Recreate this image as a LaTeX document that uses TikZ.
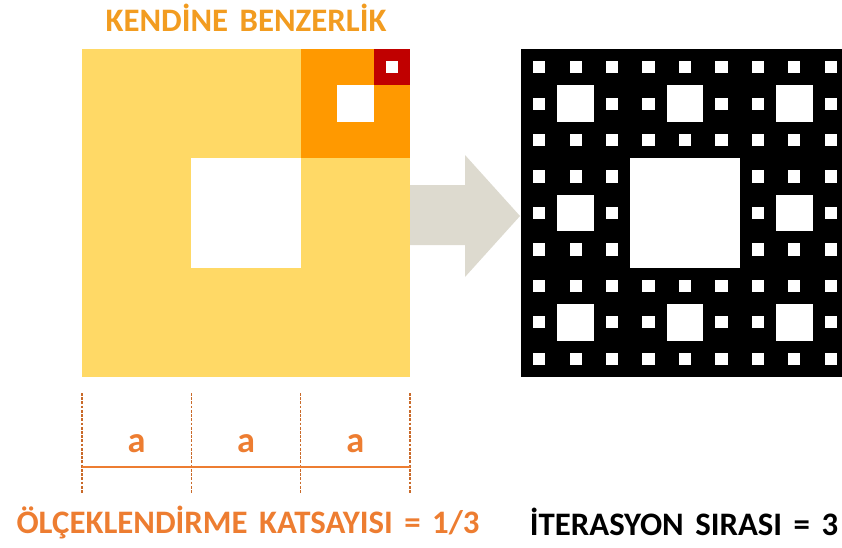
\documentclass[tikz,border=0pt]{standalone}
\usepackage{fontspec}
\setmainfont{Carlito}[WordSpace=1.55]
\usetikzlibrary{positioning, calc}

\definecolor{lightgold}{RGB}{255,217,102}
\definecolor{tileorange}{RGB}{255,153,0}
\definecolor{tilered}{RGB}{192,0,0}
\definecolor{titleorange}{RGB}{242,156,32}
\definecolor{dimorange}{RGB}{237,125,49}
\definecolor{arrowgrey}{RGB}{221,218,207}

\tikzset{
    bigtext/.style={font=\fontsize{28}{32}\selectfont\bfseries, inner sep=0pt, anchor=base},
    dimtick/.style={dimorange!85!black, line width=1.1pt, dash pattern=on 2.4pt off 1.2pt},
    dimline/.style={dimorange, line width=1.7pt}
}

\begin{document}
\begin{tikzpicture}[x=0.03cm, y=-0.03cm]
    \useasboundingbox (0,0) rectangle (842,547);

    % Arrow between the two squares
    \fill[arrowgrey] (405,185) -- (465,185) -- (465,155) -- (520,216)
        -- (465,277) -- (465,245) -- (405,245) -- cycle;

    % Left square - self similarity
    \fill[lightgold] (82,49) rectangle (410,377);
    \fill[white] (191.33,158.33) rectangle (300.67,267.67);
    \fill[tileorange] (300.67,49) rectangle (410,158.33);
    \fill[white] (337.11,85.44) rectangle (373.56,121.89);
    \fill[tilered] (373.56,49) rectangle (410,85.44);
    \fill[white] (385.7,61.15) rectangle (397.85,73.3);

    % Right square - carpet, iteration 3
    \begin{scope}
        \clip (500,0) rectangle (842,547);
        \fill[black] (521,49) rectangle (849,377);
        \fill[white] (630.33,158.33) rectangle (739.67,267.67);
        \foreach \i in {0,1,2} {
            \foreach \j in {0,1,2} {
                \ifnum\numexpr\i*3+\j\relax=4 \else
                    \fill[white] (521+\i*109.33+36.44,49+\j*109.33+36.44)
                        rectangle ++(36.44,36.44);
                    \foreach \k in {0,1,2} {
                        \foreach \l in {0,1,2} {
                            \ifnum\numexpr\k*3+\l\relax=4 \else
                                \fill[white] (521+\i*109.33+\k*36.44+12.15,49+\j*109.33+\l*36.44+12.15)
                                    rectangle ++(12.15,12.15);
                            \fi
                        }
                    }
                \fi
            }
        }
    \end{scope}

    % Title
    \node[bigtext, text=titleorange] (title) at (246,31) {KENDİNE BENZERLİK};

    % Dimension under the left square
    \foreach \n/\x in {0/82,1/191.33,2/300.67,3/410} {
        \coordinate (t\n) at (\x,393);
        \coordinate (b\n) at (\x,493);
        \coordinate (m\n) at (\x,467);
        \draw[dimtick] (t\n) -- (b\n);
    }
    \draw[dimline] (m0) -- (m3);
    \foreach \n/\x in {1/136.67,2/246,3/355.33} {
        \node[bigtext, font=\fontsize{31}{34}\selectfont\bfseries, text=dimorange] (a\n) at (\x,452) {a};
    }

    % Bottom captions
    \node[bigtext, text=dimorange] (scale) at (248,533) {ÖLÇEKLENDİRME KATSAYISI = 1/3};
    \node[bigtext, text=black] (iter) at (684,535) {İTERASYON SIRASI = 3};
\end{tikzpicture}
\end{document}
